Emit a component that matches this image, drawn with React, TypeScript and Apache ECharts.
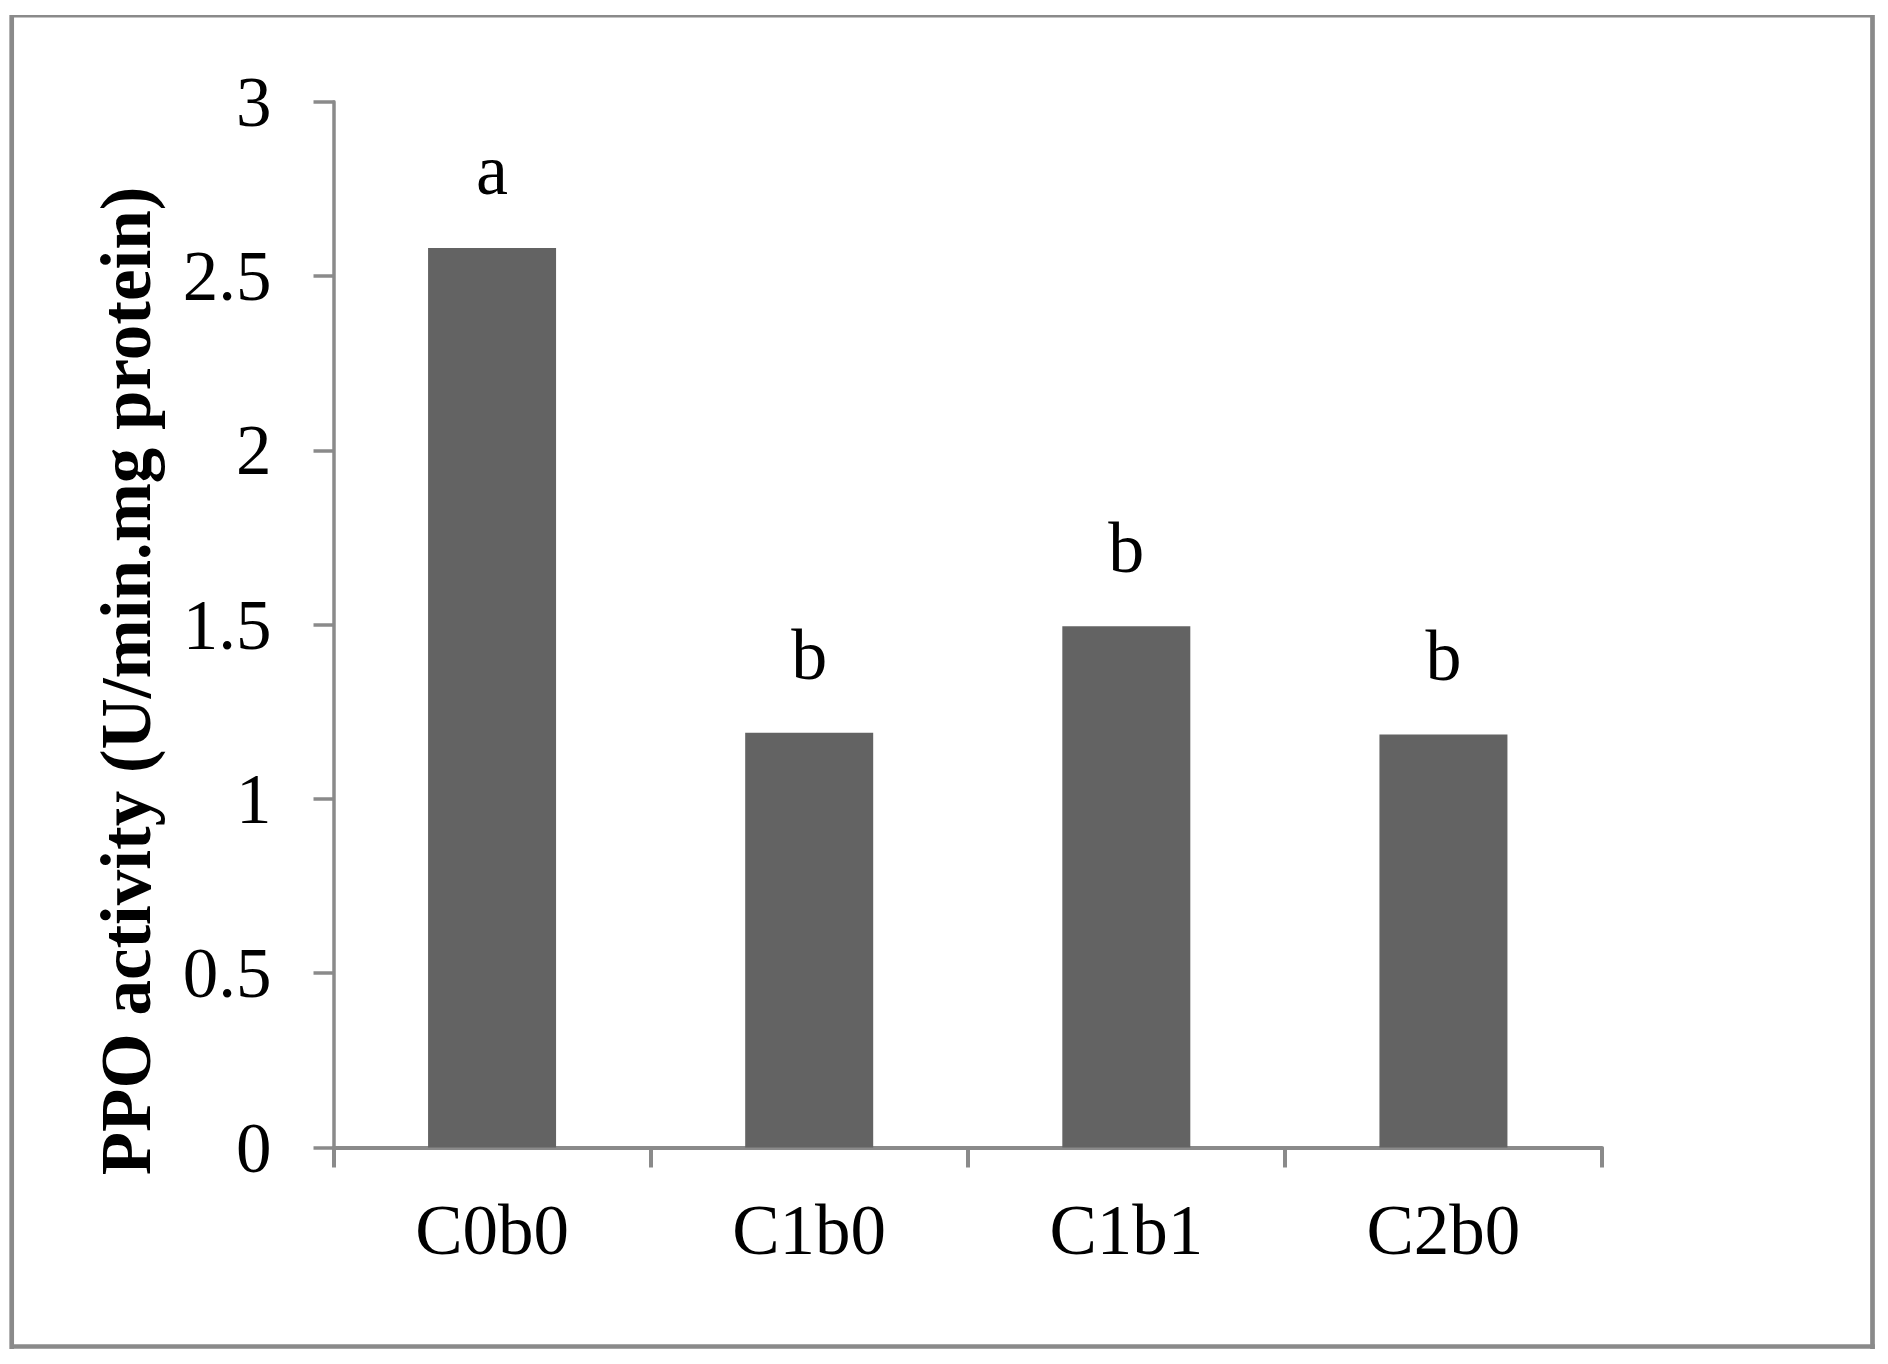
import React, { useEffect, useRef } from "react";
import * as echarts from "echarts";

const categories = ["C0b0", "C1b0", "C1b1", "C2b0"];
const values = [2.58, 1.19, 1.495, 1.185];
const letters = ["a", "b", "b", "b"];
const yTitle = "PPO activity (U/min.mg protein)";

const FONT = "'Liberation Serif', 'Times New Roman', serif";
const GRAY = "#8a8a8a";

export default function App() {
  const ref = useRef<HTMLDivElement>(null);
  useEffect(() => {
    if (!ref.current) return;
    const chart = echarts.init(ref.current, undefined, { renderer: "svg" });
    chart.setOption({
      animation: false,
      backgroundColor: "#ffffff",
      grid: { left: 333.5, right: 286, top: 101.7, bottom: 216.5 },
      xAxis: {
        type: "category",
        data: categories,
        axisLine: { lineStyle: { color: GRAY, width: 4 } },
        axisTick: { show: true, length: 20, alignWithLabel: false, lineStyle: { color: GRAY, width: 4 } },
        axisLabel: { color: "#000", fontFamily: FONT, fontSize: 71, margin: 47 },
        splitLine: { show: false },
      },
      yAxis: {
        type: "value",
        min: 0,
        max: 3,
        interval: 0.5,
        axisLine: { show: true, lineStyle: { color: GRAY, width: 3.5 } },
        axisTick: { show: true, length: 20, lineStyle: { color: GRAY, width: 3.5 } },
        axisLabel: { color: "#000", fontFamily: FONT, fontSize: 71, margin: 62 },
        splitLine: { show: false },
      },
      series: [
        {
          type: "bar",
          data: values.map((v, i) => ({
            value: v,
            label: { formatter: letters[i] },
          })),
          barWidth: 128,
          itemStyle: { color: "#636363" },
          label: {
            show: true,
            position: "top",
            distance: 42,
            color: "#000",
            fontFamily: FONT,
            fontSize: 72,
          },
        },
      ],
      graphic: [
        {
          type: "line",
          shape: { x1: 10, y1: 16.2, x2: 1874, y2: 16.2 },
          style: { stroke: GRAY, lineWidth: 2.5 },
        },
        {
          type: "line",
          shape: { x1: 11.7, y1: 15, x2: 11.7, y2: 1349 },
          style: { stroke: GRAY, lineWidth: 4.7 },
        },
        {
          type: "line",
          shape: { x1: 1872.5, y1: 15, x2: 1872.5, y2: 1349 },
          style: { stroke: GRAY, lineWidth: 4.7 },
        },
        {
          type: "line",
          shape: { x1: 10, y1: 1346.5, x2: 1874.8, y2: 1346.5 },
          style: { stroke: GRAY, lineWidth: 4.7 },
        },
        {
          type: "text",
          x: 126,
          y: 681,
          rotation: Math.PI / 2,
          style: {
            text: yTitle,
            fontFamily: FONT,
            fontSize: 71,
            fontWeight: "bold",
            fill: "#000",
            textAlign: "center",
            textVerticalAlign: "middle",
          },
        },
      ],
    });
    return () => chart.dispose();
  }, []);
  return (
    <div
      ref={ref}
      style={{ position: "fixed", left: 0, top: 0, width: 1888, height: 1364 }}
    />
  );
}
